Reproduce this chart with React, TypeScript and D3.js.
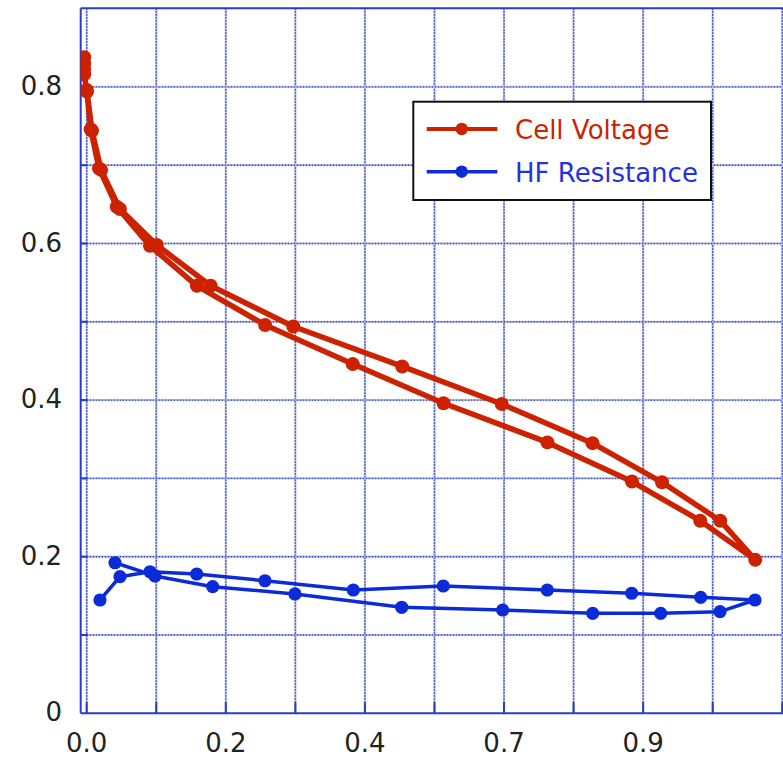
import React from "react";
import * as d3 from "d3";

// Cell Voltage (x = current density, y = volts), scan down then back up
const voltX = [-0.004, -0.004, -0.004, -0.004, 0.0, 0.0064, 0.0196, 0.048, 0.101, 0.176, 0.285, 0.425, 0.570, 0.736, 0.871, 0.980, 1.068,
  1.012, 0.919, 0.808, 0.663, 0.504, 0.330, 0.198, 0.112, 0.053, 0.023, 0.0085, 0.0005];
const voltY = [0.838, 0.830, 0.823, 0.816, 0.796, 0.746, 0.696, 0.647, 0.597, 0.546, 0.496, 0.446, 0.396, 0.346, 0.296, 0.246, 0.196,
  0.246, 0.295, 0.345, 0.395, 0.443, 0.494, 0.546, 0.598, 0.644, 0.694, 0.744, 0.794];

// HF Resistance
const hfrX = [0.0212, 0.0532, 0.1011, 0.1757, 0.2848, 0.4259, 0.5696, 0.7358, 0.8706, 0.9808, 1.0676,
  1.0117, 0.9169, 0.8083, 0.6645, 0.5032, 0.3327, 0.2013, 0.1091, 0.0452];
const hfrY = [0.1447, 0.1745, 0.1808, 0.1779, 0.1693, 0.1575, 0.1626, 0.1575, 0.1533, 0.1481, 0.1447,
  0.1298, 0.1277, 0.1277, 0.1319, 0.1354, 0.1524, 0.1617, 0.1754, 0.1923];

const xGridValues = d3.range(0, 11).map((k) => k / 9);
const xLabelIdx = [0, 2, 4, 6, 8];
const yGridValues = [0.1, 0.2, 0.3, 0.4, 0.5, 0.6, 0.7, 0.8];
const yLabelValues = [0, 0.2, 0.4, 0.6, 0.8];
const seriesNames = ["Cell Voltage", "HF Resistance"];

const W = 783;
const H = 757;
const L = 80.7;
const T = 8.2;
const B = 713.3;
const R = 800;

const RED = "#cc2200";
const BLUE = "#0b2bd9";
const AXIS = "#2a3cc8";
const FONT = "'DejaVu Sans', sans-serif";

export default function App() {
  const x = d3.scaleLinear().domain([-6 / 626, (R - 86.7) / 626]).range([L, R]);
  const y = d3.scaleLinear().domain([0, 0.9]).range([B, B - 0.9 * 783]);

  const line = d3
    .line<[number, number]>()
    .x((d) => x(d[0]))
    .y((d) => y(d[1]));

  const volt: [number, number][] = voltX.map((v, i) => [v, voltY[i]]);
  const hfr: [number, number][] = hfrX.map((v, i) => [v, hfrY[i]]);

  const fmtX = d3.format(".1f");

  return (
    <div style={{ position: "fixed", left: 0, top: 0 }}>
      <svg width={W} height={H} style={{ display: "block", background: "#fff" }}>
        <defs>
          <clipPath id="plot">
            <rect x={L} y={T} width={R - L} height={B - T} />
          </clipPath>
        </defs>
        {/* grid */}
        <g>
          {xGridValues.map((v, i) => (
            <g key={"xg" + i}>
              <line x1={x(v)} x2={x(v)} y1={T} y2={B} stroke="#c4c7d6" strokeWidth={2.2} />
              <line x1={x(v)} x2={x(v)} y1={T} y2={B} stroke="#2a44e6" strokeWidth={1.4} strokeDasharray="1.5,1.5" />
            </g>
          ))}
          {yGridValues.map((v, i) => (
            <g key={"yg" + i}>
              <line x1={L} x2={R} y1={y(v)} y2={y(v)} stroke="#c4c7d6" strokeWidth={2.2} />
              <line x1={L} x2={R} y1={y(v)} y2={y(v)} stroke="#2a44e6" strokeWidth={1.4} strokeDasharray="1.5,1.5" />
            </g>
          ))}
        </g>
        {/* ticks */}
        {xGridValues.map((v, i) => (
          <line key={"xt" + i} x1={x(v)} x2={x(v)} y1={B} y2={B - 11} stroke={AXIS} strokeWidth={2} />
        ))}
        {yGridValues.map((v, i) => (
          <line key={"yt" + i} x1={L} x2={L + 7} y1={y(v)} y2={y(v)} stroke={AXIS} strokeWidth={2} />
        ))}
        {/* frame */}
        <line x1={L} x2={L} y1={T} y2={B} stroke={AXIS} strokeWidth={2} />
        <line x1={L} x2={R} y1={B} y2={B} stroke={AXIS} strokeWidth={2} />
        <line x1={L} x2={R} y1={T} y2={T} stroke={AXIS} strokeWidth={2} />

        {/* series */}
        <g clipPath="url(#plot)">
          <path d={line(hfr) || ""} fill="none" stroke={BLUE} strokeWidth={3.5} strokeLinejoin="round" />
          {hfr.map((d, i) => (
            <circle key={"h" + i} cx={x(d[0])} cy={y(d[1])} r={6.6} fill={BLUE} />
          ))}
          <path d={line(volt) || ""} fill="none" stroke={RED} strokeWidth={5.5} strokeLinejoin="round" />
          {volt.map((d, i) => (
            <circle key={"v" + i} cx={x(d[0])} cy={y(d[1])} r={7} fill={RED} />
          ))}
        </g>

        {/* axis labels */}
        {yLabelValues.map((v, i) => (
          <text key={"yl" + i} x={62} y={y(v) + 8} textAnchor="end" fontFamily={FONT} fontSize={26} fill="#222">
            {v === 0 ? "0" : v.toFixed(1)}
          </text>
        ))}
        {xLabelIdx.map((k) => (
          <text key={"xl" + k} x={x(xGridValues[k])} y={752} textAnchor="middle" fontFamily={FONT} fontSize={26} fill="#222">
            {fmtX(xGridValues[k])}
          </text>
        ))}

        {/* legend */}
        <g>
          <rect x={413.3} y={101.7} width={297.7} height={98.3} fill="#fff" stroke="#111" strokeWidth={2} />
          <line x1={426.7} x2={497.3} y1={129} y2={129} stroke={RED} strokeWidth={4} />
          <circle cx={461.7} cy={129} r={6.2} fill={RED} />
          <text x={515} y={138.5} fontFamily={FONT} fontSize={26} fill={RED}>{seriesNames[0]}</text>
          <line x1={426.7} x2={497.3} y1={171.7} y2={171.7} stroke={BLUE} strokeWidth={3.5} />
          <circle cx={461.7} cy={171.7} r={6.2} fill={BLUE} />
          <text x={515} y={181.5} fontFamily={FONT} fontSize={26} fill="#2233dd">{seriesNames[1]}</text>
        </g>
      </svg>
    </div>
  );
}
